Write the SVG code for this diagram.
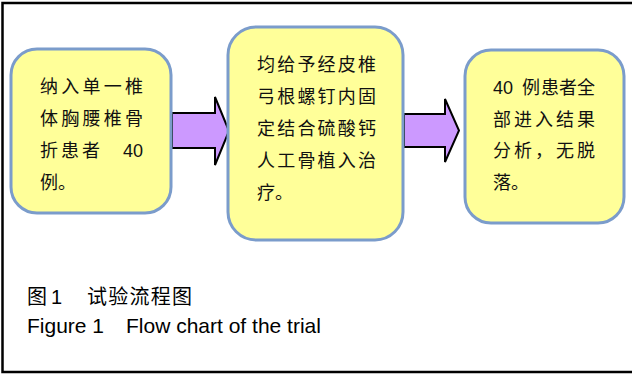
<svg xmlns="http://www.w3.org/2000/svg" width="632" height="374" viewBox="0 0 632 374">
  <style>
    .frame { fill: #ffffff; stroke: #000000; stroke-width: 2.5; }
    .box { fill: #ffff99; stroke: #7b9ccb; stroke-width: 3; }
    .arrow { fill: #cc99ff; stroke: #000000; stroke-width: 2; stroke-linejoin: miter; }
    .t { font-family: "Liberation Sans", "Noto Sans CJK SC", sans-serif; font-size: 18px; fill: #111111; }
    .cap { font-family: "Liberation Sans", "Noto Sans CJK SC", sans-serif; fill: #000000; }
  </style>

  <!-- outer frame (right edge runs past the canvas) -->
  <rect class="frame" x="2.5" y="3" width="645" height="369"/>

  <!-- connectors -->
  <g id="connectors">
    <polygon class="arrow" points="172,113 215,113 215,97 229,131 215,165 215,148 172,148"/>
    <polygon class="arrow" points="404,114 445,114 445,99 459,130.5 445,162 445,147 404,147"/>
  </g>

  <!-- step 1 -->
  <g id="node-enrol">
    <rect class="box" x="11" y="49" width="160" height="164" rx="26" ry="26"/>
    <text class="t" x="40" y="93" letter-spacing="3.25">纳入单一椎</text>
    <text class="t" x="40" y="125" letter-spacing="3.25">体胸腰椎骨</text>
    <text class="t" y="157"><tspan x="40">折</tspan><tspan x="61">患</tspan><tspan x="82">者</tspan><tspan x="123">40</tspan></text>
    <text class="t" x="40" y="189">例。</text>
  </g>

  <!-- step 2 -->
  <g id="node-treatment">
    <rect class="box" x="228" y="27" width="175" height="213" rx="28" ry="28"/>
    <text class="t" x="257" y="71" letter-spacing="2.2">均给予经皮椎</text>
    <text class="t" x="257" y="103" letter-spacing="2.2">弓根螺钉内固</text>
    <text class="t" x="257" y="135" letter-spacing="2.2">定结合硫酸钙</text>
    <text class="t" x="257" y="167" letter-spacing="2.2">人工骨植入治</text>
    <text class="t" x="257" y="199">疗。</text>
  </g>

  <!-- step 3 -->
  <g id="node-outcome">
    <rect class="box" x="465" y="50" width="159" height="173" rx="26" ry="26"/>
    <text class="t" y="94"><tspan x="493">40</tspan><tspan x="522">例</tspan><tspan x="541">患</tspan><tspan x="559">者</tspan><tspan x="577">全</tspan></text>
    <text class="t" x="493" y="126" letter-spacing="3">部进入结果</text>
    <text class="t" x="493" y="157" letter-spacing="3">分析，无脱</text>
    <text class="t" x="493" y="189">落。</text>
  </g>

  <!-- caption -->
  <g id="caption">
    <text class="cap" y="304" font-size="20"><tspan x="27">图</tspan><tspan x="51">1</tspan></text>
    <text class="cap" x="87" y="304" font-size="20" textLength="105" lengthAdjust="spacing">试验流程图</text>
    <text class="cap" x="27" y="333" font-size="21">Figure 1</text>
    <text class="cap" x="126" y="333" font-size="21">Flow chart of the trial</text>
  </g>
</svg>
